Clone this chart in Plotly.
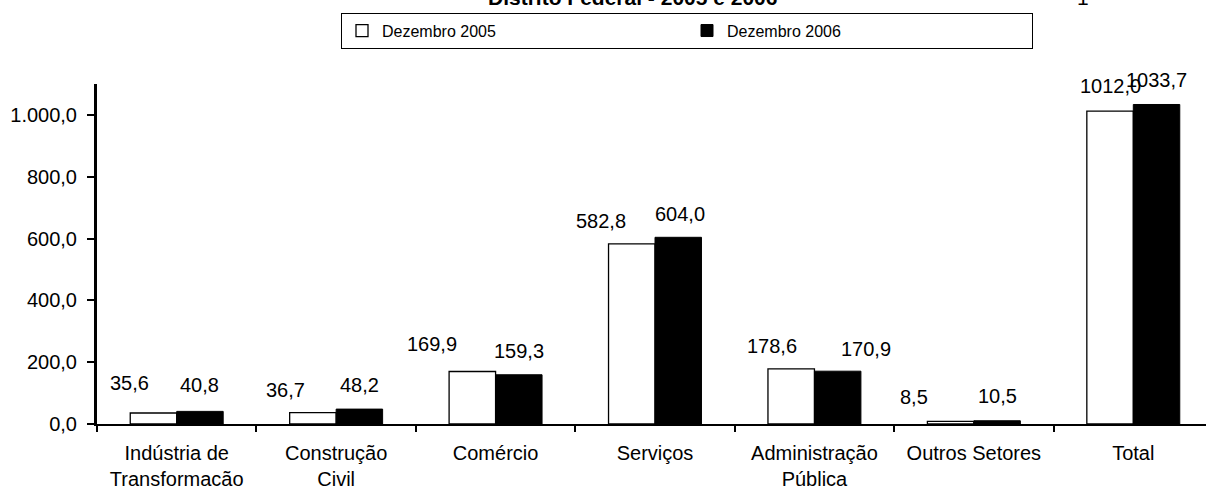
import plotly.graph_objects as go

# ---- data ----
categories = ["Indústria de<br>Transformacão", "Construção<br>Civil", "Comércio",
              "Serviços", "Administração<br>Pública", "Outros Setores", "Total"]
dez2005 = [35.6, 36.7, 169.9, 582.8, 178.6, 8.5, 1012.0]
dez2006 = [40.8, 48.2, 159.3, 604.0, 170.9, 10.5, 1033.7]
series_names = ["Dezembro 2005", "Dezembro 2006"]
y_ticks = [0, 200, 400, 600, 800, 1000]
title_text = "Distrito Federal - 2005 e 2006"

# ---- style / layout ----
W, H = 1206, 490
ML, MR, MT, MB = 97, 0, 84, 63
FONT = "Liberation Sans, Arial, Helvetica, sans-serif"
x_range = [-0.5, 6.456]
y_range = [0, 1100]
bargap = 0.417

# label offsets (pixels) relative to bar centre / bar top
dx05 = [-24, -27, -40, -31, -19, -37, 0]
dx06 = [0, 0, 0, 2, 28, 0, 0]
dy05 = [30, 23, 27, 23, 23, 24, 25]
dy06 = [26, 24, 24, 23, 22, 25, 24]

plot_w = W - ML - MR
plot_h = H - MT - MB
px_per_cat = plot_w / (x_range[1] - x_range[0])
bar_w = px_per_cat * (1 - bargap) / 2


def fmt(v):
    return f"{v:.1f}".replace(".", ",")


fig = go.Figure()
fig.add_trace(go.Bar(x=categories, y=dez2005, name=series_names[0],
                     marker=dict(color="white", line=dict(color="black", width=1.3))))
fig.add_trace(go.Bar(x=categories, y=dez2006, name=series_names[1],
                     marker=dict(color="black", line=dict(color="black", width=1))))

annotations = []
for i, c in enumerate(categories):
    annotations.append(dict(x=c, y=dez2005[i], xref="x", yref="y", text=fmt(dez2005[i]),
                            showarrow=False, xshift=-bar_w / 2 + dx05[i], yshift=dy05[i],
                            yanchor="middle", font=dict(size=20, color="black", family=FONT)))
    annotations.append(dict(x=c, y=dez2006[i], xref="x", yref="y", text=fmt(dez2006[i]),
                            showarrow=False, xshift=bar_w / 2 + dx06[i], yshift=dy06[i],
                            yanchor="middle", font=dict(size=20, color="black", family=FONT)))

annotations.append(dict(x=(632 - ML) / plot_w, y=1 + (MT - 10) / plot_h, xref="paper", yref="paper",
                        text=f"<b>{title_text}</b>", showarrow=False, xanchor="center",
                        yanchor="bottom", font=dict(size=21, color="black", family=FONT)))
annotations.append(dict(x=(1083 - ML) / plot_w, y=1 + (MT - 10) / plot_h, xref="paper", yref="paper",
                        text="1", showarrow=False, xanchor="center",
                        yanchor="bottom", font=dict(size=21, color="black", family=FONT)))

fig.update_layout(
    width=W, height=H,
    margin=dict(l=ML, r=MR, t=MT, b=MB, pad=0),
    paper_bgcolor="white", plot_bgcolor="white",
    font=dict(family=FONT, size=20, color="black"),
    separators=",.",
    barmode="group", bargap=bargap, bargroupgap=0,
    showlegend=True,
    legend=dict(orientation="h", x=(341 - ML) / plot_w, xanchor="left",
                y=1 + (MT - 12) / plot_h, yanchor="top",
                bordercolor="black", borderwidth=1, bgcolor="white",
                font=dict(size=16, color="black", family=FONT),
                entrywidth=300, entrywidthmode="pixels", itemwidth=30,
                traceorder="normal"),
    annotations=annotations,
)
fig.update_xaxes(type="category", range=x_range, showline=True, linecolor="black", linewidth=2,
                 ticks="outside", tickson="boundaries", ticklen=6, tickwidth=2, tickcolor="black",
                 showgrid=False, zeroline=False, tickfont=dict(size=20, family=FONT),
                 ticklabelstandoff=10)
fig.update_yaxes(range=y_range, tickvals=y_ticks, tickformat=",.1f", showline=True,
                 linecolor="black", linewidth=3, ticks="outside", ticklen=7, tickwidth=2,
                 tickcolor="black", showgrid=False, zeroline=False,
                 tickfont=dict(size=20, family=FONT), ticklabelstandoff=6)

fig.write_html("out.html", config={"displayModeBar": False},
               post_script="document.body.style.margin='0';document.body.style.overflow='hidden';")
